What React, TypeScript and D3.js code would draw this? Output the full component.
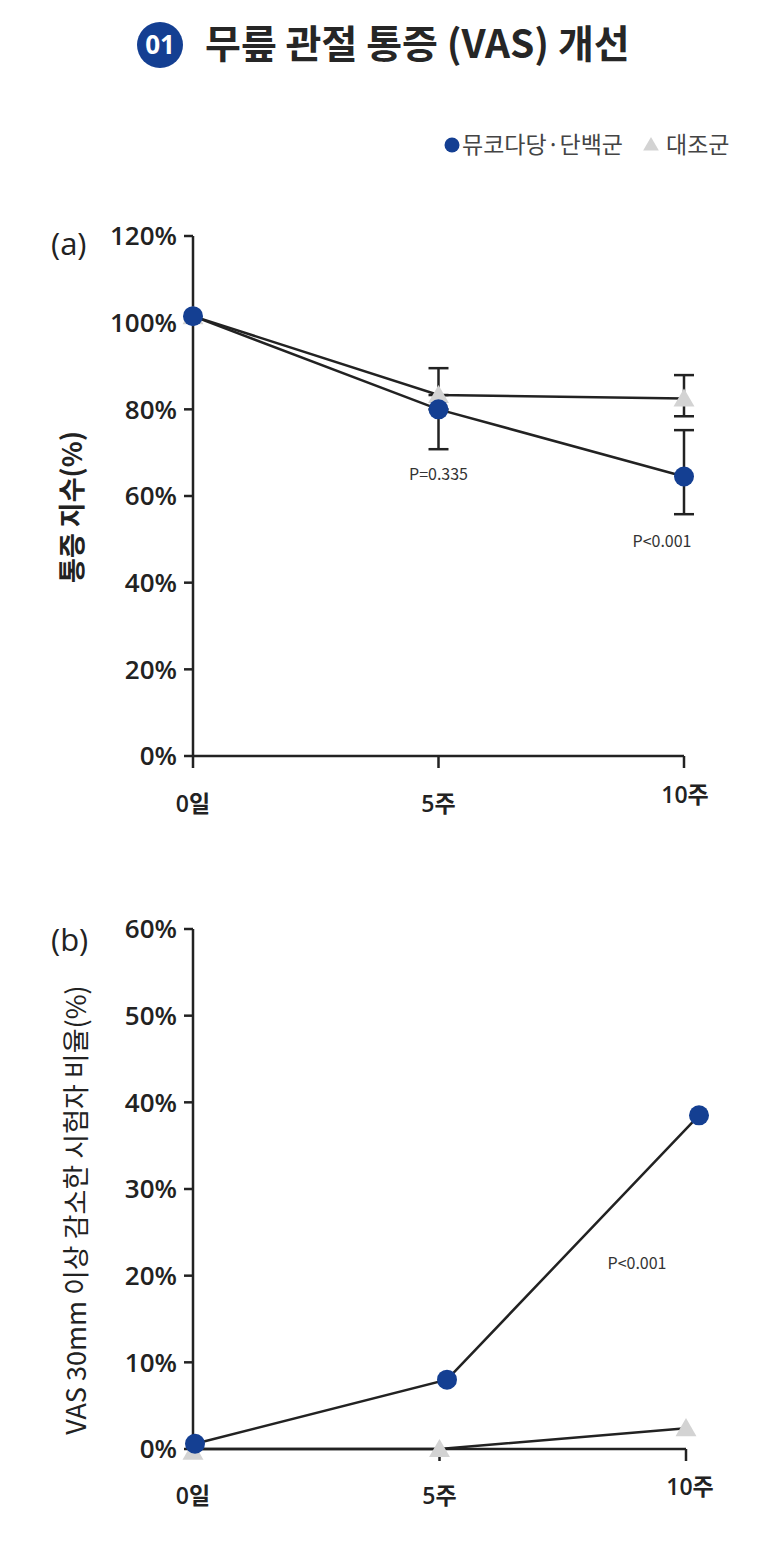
import React from 'react';
import * as d3 from 'd3';

// categories and series
const weeks = ['0일', '5주', '10주'];
const painMuco = [101.5, 80, 64.5];
const painCtrl = [101.5, 83.3, 82.5];
// error bar ends [low, high]
const painMucoErr = [null, [70.8, 80], [55.8, 75.2]];
const painCtrlErr = [null, [83.3, 89.5], [78.4, 87.9]];
const painTicks = [0, 20, 40, 60, 80, 100, 120];
const painP = ['', 'P=0.335', 'P<0.001'];

const vasMuco = [0.6, 8, 38.5];
const vasCtrl = [-0.3, 0, 2.4];
const vasTicks = [0, 10, 20, 30, 40, 50, 60];
const vasP = 'P<0.001';

const BLUE = '#143f92';
const GREY = '#d3d3d3';
const INK = '#222';
const FONT = '"Noto Sans CJK KR", "Noto Sans", sans-serif';
const NUMFONT = '"Open Sans", "Noto Sans CJK KR", sans-serif';

const tri = d3.symbol().type(d3.symbolTriangle).size(190);

const App = () => {
  const W = 779, H = 1543;

  // panel (a)
  const xA = d3.scalePoint().domain(weeks).range([193, 684]);
  const yA = d3.scaleLinear().domain([0, 120]).range([756, 236]);
  // panel (b)
  const xB = d3.scalePoint().domain(weeks).range([193, 686]);
  const xBm = d3.scalePoint().domain(weeks).range([195, 699]);
  const yB = d3.scaleLinear().domain([0, 60]).range([1449, 929]);

  const line = d3.line<[number, number]>();

  const tickLabel = (x: number, y: number, t: number) => (
    <text x={x} y={y} dy="0.36em" textAnchor="end" fontFamily={NUMFONT} fontSize={26} fontWeight={600} fill={INK}>{t}%</text>
  );

  const xAxis = (x: d3.ScalePoint<string>, y0: number) => (
    <g>
      <line x1={x(weeks[0])} x2={x(weeks[2])} y1={y0} y2={y0} stroke={INK} strokeWidth={2.5} />
      {weeks.slice(1).map(w => (
        <line key={w} x1={x(w)} x2={x(w)} y1={y0} y2={y0 + 12} stroke={INK} strokeWidth={2.5} />
      ))}
    </g>
  );

  const xLabel = (x: number, y: number, w: string) => (
    <text key={w} x={x} y={y} dy="0.36em" textAnchor="middle" fontFamily={NUMFONT} fontSize={23} fontWeight={600} fill={INK}>{w}</text>
  );

  const errBar = (cx: number, lo: number, hi: number, key: string) => (
    <g key={key} stroke={INK} strokeWidth={2.5}>
      <line x1={cx} x2={cx} y1={lo} y2={hi} />
      <line x1={cx - 10} x2={cx + 10} y1={lo} y2={lo} />
      <line x1={cx - 10} x2={cx + 10} y1={hi} y2={hi} />
    </g>
  );

  return (
    <svg width={W} height={H} style={{ display: 'block', margin: '-8px', fontFamily: FONT }}>
      <rect width={W} height={H} fill="#fff" />
      {/* title */}
      <circle cx={160} cy={45} r={23} fill={BLUE} />
      <text x={160} y={45} dy="0.36em" textAnchor="middle" fontFamily={NUMFONT} fontSize={26} fontWeight={700} fill="#fff">01</text>
      <text x={205} y={58} fontSize={39} fontWeight={700} fill="#262626">무릎 관절 통증 (VAS) 개선</text>

      {/* legend */}
      <circle cx={452} cy={145} r={7.5} fill={BLUE} />
      <text x={462} y={145} dy="0.36em" fontSize={23} fill="#444">뮤코다당·단백군</text>
      <path d={tri()!} transform="translate(651,146) scale(0.75)" fill={GREY} />
      <text x={666} y={145} dy="0.36em" fontSize={23} fill="#444">대조군</text>

      {/* panel (a) */}
      <text x={51} y={244} dy="0.36em" fontFamily={NUMFONT} fontSize={31} fill={INK}>(a)</text>
      <text transform="translate(72,507) rotate(-90)" textAnchor="middle" dy="0.36em" fontSize={27} fontWeight={700} fill={INK}>통증 지수(%)</text>
      <line x1={193} x2={193} y1={yA(120)} y2={yA(0) + 12} stroke={INK} strokeWidth={2.5} />
      {painTicks.map(t => (
        <g key={t}>
          <line x1={184} x2={193} y1={yA(t)} y2={yA(t)} stroke={INK} strokeWidth={2.5} />
          {tickLabel(177, yA(t), t)}
        </g>
      ))}
      {xAxis(xA, 756)}
      {weeks.map((w, i) => xLabel(xA(w)! + (i === 2 ? 1 : 0), i === 2 ? 795 : 804, w))}
      {weeks.map((w, i) => {
        const m = painMucoErr[i], c = painCtrlErr[i];
        return (
          <g key={w}>
            {m && errBar(xA(w)!, yA(m[0]), yA(m[1]), 'm' + i)}
            {c && errBar(xA(w)!, yA(c[0]), yA(c[1]), 'c' + i)}
          </g>
        );
      })}
      <path d={line(weeks.map((w, i) => [xA(w)!, yA(painCtrl[i])]))!} fill="none" stroke={INK} strokeWidth={2.5} />
      <path d={line(weeks.map((w, i) => [xA(w)!, yA(painMuco[i])]))!} fill="none" stroke={INK} strokeWidth={2.5} />
      {weeks.map((w, i) => (
        <path key={w} d={tri()!} transform={`translate(${xA(w)},${yA(painCtrl[i]) + 2})`} fill={GREY} />
      ))}
      {weeks.map((w, i) => (
        <circle key={w} cx={xA(w)} cy={yA(painMuco[i])} r={10} fill={BLUE} />
      ))}
      <text x={xA(weeks[1])} y={474} dy="0.36em" textAnchor="middle" fontSize={16} fill="#333">{painP[1]}</text>
      <text x={xA(weeks[2])! - 22} y={541} dy="0.36em" textAnchor="middle" fontSize={16} fill="#333">{painP[2]}</text>

      {/* panel (b) */}
      <text x={51} y={940} dy="0.36em" fontFamily={NUMFONT} fontSize={31} fill={INK}>(b)</text>
      <text transform="translate(76,1210) rotate(-90)" textAnchor="middle" dy="0.36em" fontSize={27} fill={INK}>VAS 30mm 이상 감소한 시험자 비율(%)</text>
      <line x1={193} x2={193} y1={yB(60)} y2={yB(0)} stroke={INK} strokeWidth={2.5} />
      {vasTicks.map(t => (
        <g key={t}>
          <line x1={184} x2={193} y1={yB(t)} y2={yB(t)} stroke={INK} strokeWidth={2.5} />
          {tickLabel(177, yB(t), t)}
        </g>
      ))}
      {xAxis(xB, 1449)}
      {weeks.map((w, i) => xLabel(xB(w)! + (i === 2 ? 4 : 0), i === 2 ? 1487 : 1496, w))}
      <path d={line(weeks.map((w, i) => [xB(w)!, yB(Math.max(0, vasCtrl[i]))]))!} fill="none" stroke={INK} strokeWidth={2.5} />
      <path d={line(weeks.map((w, i) => [xBm(w)!, yB(vasMuco[i])]))!} fill="none" stroke={INK} strokeWidth={2.5} />
      {weeks.map((w, i) => (
        <path key={w} d={tri()!} transform={`translate(${xB(w)},${yB(vasCtrl[i]) + 2})`} fill={GREY} />
      ))}
      {weeks.map((w, i) => (
        <circle key={w} cx={xBm(w)} cy={yB(vasMuco[i])} r={10} fill={BLUE} />
      ))}
      <text x={637} y={1263} dy="0.36em" textAnchor="middle" fontSize={16} fill="#333">{vasP}</text>
    </svg>
  );
};

export default App;
